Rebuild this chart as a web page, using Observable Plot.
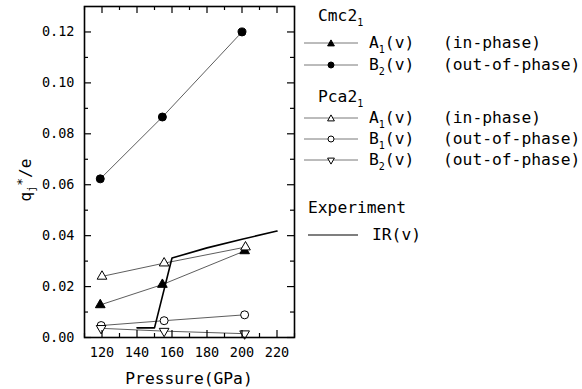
<!DOCTYPE html>
<html><head><meta charset="utf-8">
<script src="https://cdn.jsdelivr.net/npm/d3@7"></script>
<script src="https://cdn.jsdelivr.net/npm/@observablehq/plot@0.6"></script>
<style>
body{margin:0;background:#fff;}
#wrap{position:relative;width:582px;height:389px;font-family:"DejaVu Sans Mono",monospace;color:#000;}
#wrap svg{position:absolute;left:0;top:0;}
.t{position:absolute;font-size:16.3px;line-height:20px;white-space:pre;}
.t sub{font-size:10px;vertical-align:-5px;line-height:0;}
.sym{position:absolute;}
#ylab{position:absolute;left:25px;top:180px;transform:translate(-50%,-50%) rotate(-90deg);font-size:16px;white-space:pre;}
#ylab sub{font-size:10px;vertical-align:-4px;line-height:0;}
#ylab sup{font-size:13px;vertical-align:5px;line-height:0;}
#xlab{position:absolute;left:189px;top:378px;transform:translate(-50%,-50%);font-size:16.3px;white-space:pre;}
</style></head>
<body><div id="wrap"></div>
<script>
// ---- data ----
const cmcA1X = [119, 154.5, 201.5];
const cmcA1 = [0.0128, 0.0208, 0.0340];
const cmcB2X = [119, 154.5, 200];
const cmcB2 = [0.0623, 0.0866, 0.1200];
const pcaA1X = [120, 155.5, 202];
const pcaA1 = [0.0240, 0.0292, 0.0355];
const pcaB1X = [119.5, 155.5, 201.5];
const pcaB1 = [0.0047, 0.0066, 0.0089];
const pcaB2X = [119.5, 155.5, 201.5];
const pcaB2 = [0.0036, 0.0025, 0.0015];
const expP = [140, 150, 160, 180, 200, 220];
const expIR = [0.0038, 0.0038, 0.0312, 0.0352, 0.0386, 0.0418];
const xTicks = [120, 140, 160, 180, 200, 220];
const xMinor = [110, 130, 150, 170, 190, 210, 230];
const yTicks = [0, 0.02, 0.04, 0.06, 0.08, 0.10, 0.12];
const yMinor = [0.01, 0.03, 0.05, 0.07, 0.09, 0.11];
const legendGroups = ["Cmc2", "Pca2", "Experiment"];
const legendLabels = ["A", "B", "A", "B", "B", "IR(v)"];
const legendSubs = ["1", "2", "1", "1", "2", ""];
const legendPhase = ["(in-phase)", "(out-of-phase)", "(in-phase)", "(out-of-phase)", "(out-of-phase)", ""];

const zip = (xs, ys) => xs.map((x, i) => ({x, y: ys[i]}));
const xDom = [110, 230], yDom = [0, 0.13];
const W = 582, H = 389, mL = 84, mR = 288, mT = 6, mB = 52;
const pxX = (W - mL - mR) / (xDom[1] - xDom[0]);
const pxY = (H - mT - mB) / (yDom[1] - yDom[0]);
const tx = n => n / pxX, ty = n => n / pxY;

const series = [
  {d: zip(cmcA1X, cmcA1), symbol: "triangle", fill: "#000", r: 3.6, rot: 0},
  {d: zip(cmcB2X, cmcB2), symbol: "circle", fill: "#000", r: 4, rot: 0},
  {d: zip(pcaA1X, pcaA1), symbol: "triangle", fill: "#fff", r: 3.6, rot: 0},
  {d: zip(pcaB1X, pcaB1), symbol: "circle", fill: "#fff", r: 4, rot: 0},
  {d: zip(pcaB2X, pcaB2), symbol: "triangle", fill: "#fff", r: 3.6, rot: 180}
];

const marks = [];
for (const s of series) {
  marks.push(Plot.line(s.d, {x: "x", y: "y", stroke: "#333", strokeWidth: 0.8}));
}
marks.push(Plot.line(zip(expP, expIR), {x: "x", y: "y", stroke: "#000", strokeWidth: 1.6}));
for (const s of series) {
  marks.push(Plot.dot(s.d, {x: "x", y: "y", symbol: s.symbol, r: s.r, fill: s.fill, stroke: "#000", strokeWidth: 1, rotate: s.rot}));
}
// inward ticks on all four sides
const maj = 7, mnr = 4;
marks.push(
  Plot.ruleX(xTicks, {x: d => d, y1: yDom[0], y2: yDom[0] + ty(maj), stroke: "#000", strokeWidth: 1.2}),
  Plot.ruleX(xMinor, {x: d => d, y1: yDom[0], y2: yDom[0] + ty(mnr), stroke: "#000", strokeWidth: 1.2}),
  Plot.ruleX(xTicks, {x: d => d, y1: yDom[1], y2: yDom[1] - ty(maj), stroke: "#000", strokeWidth: 1.2}),
  Plot.ruleX(xMinor, {x: d => d, y1: yDom[1], y2: yDom[1] - ty(mnr), stroke: "#000", strokeWidth: 1.2}),
  Plot.ruleY(yTicks, {y: d => d, x1: xDom[0], x2: xDom[0] + tx(maj), stroke: "#000", strokeWidth: 1.2}),
  Plot.ruleY(yMinor, {y: d => d, x1: xDom[0], x2: xDom[0] + tx(mnr), stroke: "#000", strokeWidth: 1.2}),
  Plot.ruleY(yTicks, {y: d => d, x1: xDom[1], x2: xDom[1] - tx(maj), stroke: "#000", strokeWidth: 1.2}),
  Plot.ruleY(yMinor, {y: d => d, x1: xDom[1], x2: xDom[1] - tx(mnr), stroke: "#000", strokeWidth: 1.2}),
  Plot.axisX(xTicks, {tickSize: 0, tickPadding: 10, fontSize: 13.5, label: null, tickFormat: d => String(d)}),
  Plot.axisY(yTicks, {tickSize: 0, tickPadding: 10, fontSize: 13.5, label: null, tickFormat: d3.format(".2f")}),
  Plot.frame({stroke: "#000", strokeWidth: 1.6})
);

const chart = Plot.plot({
  width: W, height: H,
  marginLeft: mL, marginRight: mR, marginTop: mT, marginBottom: mB,
  x: {domain: xDom},
  y: {domain: yDom},
  style: {fontFamily: "DejaVu Sans Mono, monospace", color: "#000", background: "#fff", overflow: "visible"},
  marks
});
const wrap = document.getElementById("wrap");
wrap.appendChild(chart);

// axis titles
const yl = document.createElement("div");
yl.id = "ylab";
yl.innerHTML = "q<sub>j</sub><sup>*</sup>/e";
wrap.appendChild(yl);
const xl = document.createElement("div");
xl.id = "xlab";
xl.textContent = "Pressure(GPa)";
wrap.appendChild(xl);

// legend
function addText(html, left, cy) {
  const d = document.createElement("div");
  d.className = "t";
  d.innerHTML = html;
  d.style.left = left + "px";
  d.style.top = (cy - 10) + "px";
  wrap.appendChild(d);
}
function addSym(cy, s, x0, x1) {
  const ns = "http://www.w3.org/2000/svg";
  const svg = document.createElementNS(ns, "svg");
  svg.setAttribute("class", "sym");
  svg.setAttribute("width", x1 - x0 + 2);
  svg.setAttribute("height", 14);
  svg.style.left = (x0 - 1) + "px";
  svg.style.top = (cy - 7) + "px";
  const mid = (x1 - x0) / 2 + 1;
  let h = `<line x1="1" x2="${x1 - x0 + 1}" y1="7" y2="7" stroke="${s ? "#555" : "#000"}" stroke-width="${s ? 0.8 : 1.2}"/>`;
  if (s) {
    if (s.symbol === "circle") h += `<circle cx="${mid}" cy="7" r="3" fill="${s.fill}" stroke="#000"/>`;
    else h += `<path d="M0,-3.6L3.4,2.4L-3.4,2.4Z" transform="translate(${mid},7.5) rotate(${s.rot})" fill="${s.fill}" stroke="#000"/>`;
  }
  svg.innerHTML = h;
  wrap.appendChild(svg);
}
addText(legendGroups[0] + "<sub>1</sub>", 318, 16);
addText(legendGroups[1] + "<sub>1</sub>", 318, 97);
addText(legendGroups[2], 308, 208);
const rowY = [43, 65, 118, 139, 160];
rowY.forEach((cy, i) => {
  addSym(cy, series[i], 304, 358);
  addText(legendLabels[i] + "<sub>" + legendSubs[i] + "</sub>(v)", 369, cy);
  addText(legendPhase[i], 443, cy);
});
addSym(235, null, 308, 358);
addText(legendLabels[5], 372, 235);
</script></body></html>
